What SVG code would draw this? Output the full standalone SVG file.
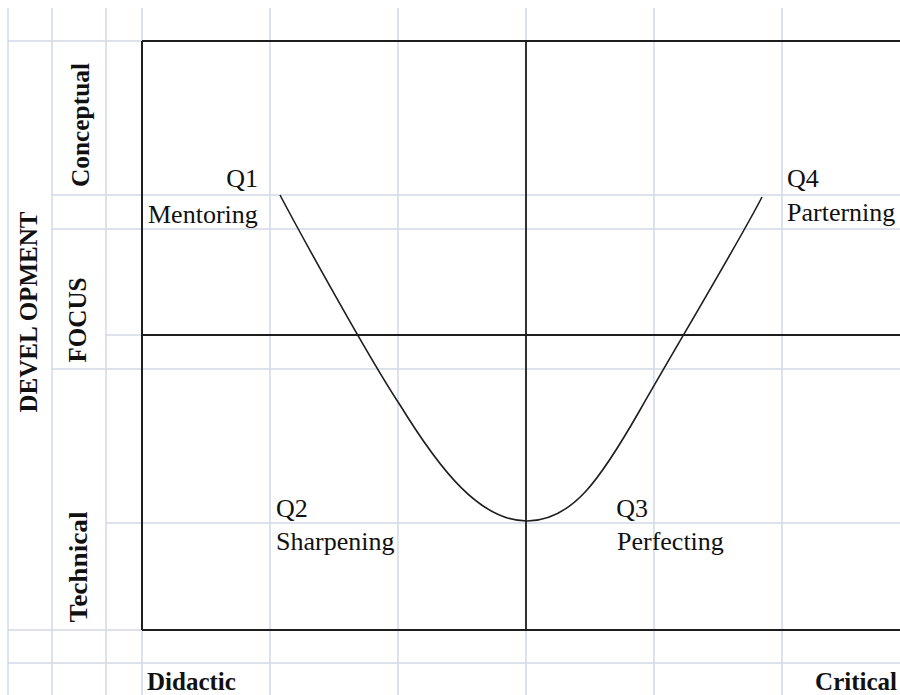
<svg xmlns="http://www.w3.org/2000/svg" width="900" height="695" viewBox="0 0 900 695">
<style>
.g{stroke:#d3d9e7;stroke-width:1.5;fill:none}
.k{stroke:#1e1e1e;stroke-width:2;fill:none}
.c{stroke:#1e1e1e;stroke-width:1.6;fill:none}
.t{font-family:"Liberation Serif","Times New Roman",serif;font-size:26px;fill:#111}
.b{font-family:"Liberation Serif","Times New Roman",serif;font-size:25px;font-weight:bold;fill:#111}
</style>
<rect width="900" height="695" fill="#ffffff"/>
<g id="grid">
<path class="g" d="M8,8V695M52,8V695M106,8V695M142,8V695M270,8V695M398,8V695M526,8V695M654,8V695M782,8V695"/>
<path class="g" d="M8,41H900M52,195H900M52,229H900M106,335H142M52,369H900M106,523H900M8,630H900M8,663H900"/>
</g>
<g id="connectors">
<path class="k" d="M142,41H900M142,41V630M142,630H900"/>
<path class="k" d="M526,41V630M142,335H900" style="stroke-width:1.8"/>
<path class="c" d="M280,195C300,233 370,360 400,405C440,470 480,521 527,521C572,521 600,480 640,410C680,340 740,240 762,197"/>
</g>
<g id="label-development"><text class="b" transform="translate(37,312) rotate(-90)" text-anchor="middle" textLength="201" lengthAdjust="spacingAndGlyphs">DEVEL OPMENT</text></g>
<g id="label-conceptual"><text class="b" transform="translate(89,125) rotate(-90)" text-anchor="middle" textLength="124" lengthAdjust="spacingAndGlyphs">Conceptual</text></g>
<g id="label-focus"><text class="b" transform="translate(86,320) rotate(-90)" text-anchor="middle" textLength="85" lengthAdjust="spacingAndGlyphs">FOCUS</text></g>
<g id="label-technical"><text class="b" transform="translate(87,567) rotate(-90)" text-anchor="middle" textLength="111" lengthAdjust="spacingAndGlyphs">Technical</text></g>
<g id="q1"><text class="t" x="258" y="187" text-anchor="end">Q1</text><text class="t" x="148" y="223">Mentoring</text></g>
<g id="q4"><text class="t" x="787" y="187">Q4</text><text class="t" x="787" y="221">Parterning</text></g>
<g id="q2"><text class="t" x="276" y="517">Q2</text><text class="t" x="276" y="550">Sharpening</text></g>
<g id="q3"><text class="t" x="648" y="517" text-anchor="end">Q3</text><text class="t" x="617" y="550">Perfecting</text></g>
<g id="label-didactic"><text class="b" x="147" y="690">Didactic</text></g>
<g id="label-critical"><text class="b" x="897" y="690" text-anchor="end">Critical</text></g>
</svg>
